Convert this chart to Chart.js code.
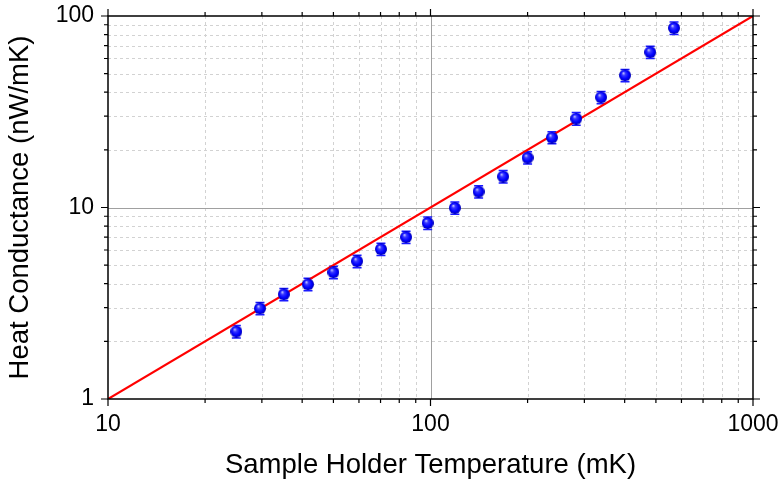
<!DOCTYPE html>
<html>
<head>
<meta charset="utf-8">
<script src="https://cdn.jsdelivr.net/npm/chart.js@4/dist/chart.umd.min.js"></script>
<style>
  body { margin: 0; background: #fff; }
  #wrap { width: 784px; height: 486px; }
</style>
</head>
<body>
<div id="wrap"><canvas id="condChart" width="784" height="486"></canvas></div>
<script>
const temps = [25, 29.6, 35.1, 41.7, 50, 59.2, 70.2, 84, 98, 119, 141, 168, 200, 238, 283, 338, 401, 480, 569];
const cond = [2.25, 2.97, 3.52, 3.97, 4.59, 5.24, 6.06, 7.0, 8.3, 9.95, 12.1, 14.5, 18.2, 23.2, 29.1, 37.6, 49, 64.7, 86.5];
const condErr = [0.17, 0.22, 0.26, 0.3, 0.34, 0.39, 0.45, 0.52, 0.62, 0.74, 0.9, 1.08, 1.35, 1.7, 2.2, 2.8, 3.6, 4.8, 6.4];

const fitX = [10, 1000];
const fitY = [1, 100];

const xTickVals = [10, 20, 30, 40, 50, 60, 70, 80, 90, 100, 200, 300, 400, 500, 600, 700, 800, 900, 1000];
const xTickLabels = [10, 100, 1000];
const yTickVals = [1, 2, 3, 4, 5, 6, 7, 8, 9, 10, 20, 30, 40, 50, 60, 70, 80, 90, 100];
const yTickLabels = [1, 10, 100];

const FONT = 'Arial, "Liberation Sans", sans-serif';

// shaded blue ball used as the marker
function makeBall(r) {
    const c = document.createElement('canvas');
    c.width = c.height = r * 2;
    const g = c.getContext('2d');
    const grad = g.createRadialGradient(r * 0.7, r * 0.6, 0, r, r, r);
    grad.addColorStop(0, '#e0e4ff');
    grad.addColorStop(0.3, '#3a3aff');
    grad.addColorStop(0.7, '#0000ff');
    grad.addColorStop(1, '#0000b4');
    g.fillStyle = grad;
    g.beginPath();
    g.arc(r, r, r, 0, Math.PI * 2);
    g.fill();
    return c;
}
const ball = makeBall(6);

const isDecade = v => Math.abs(Math.log10(v) - Math.round(Math.log10(v))) < 1e-9;

const gridAndErrors = {
    id: 'gridAndErrors',
    beforeDatasetsDraw(chart) {
        const { ctx, chartArea: a, scales: { x, y } } = chart;
        ctx.save();
        ctx.lineWidth = 1;
        xTickVals.forEach(v => {
            if (v === x.min || v === x.max) return;
            const px = Math.round(x.getPixelForValue(v)) + 0.5;
            ctx.setLineDash(isDecade(v) ? [] : [3, 3]);
            ctx.strokeStyle = isDecade(v) ? '#a0a0a0' : '#d2d2d2';
            ctx.beginPath(); ctx.moveTo(px, a.top); ctx.lineTo(px, a.bottom); ctx.stroke();
        });
        yTickVals.forEach(v => {
            if (v === y.min || v === y.max) return;
            const py = Math.round(y.getPixelForValue(v)) + 0.5;
            ctx.setLineDash(isDecade(v) ? [] : [3, 3]);
            ctx.strokeStyle = isDecade(v) ? '#a0a0a0' : '#d2d2d2';
            ctx.beginPath(); ctx.moveTo(a.left, py); ctx.lineTo(a.right, py); ctx.stroke();
        });
        ctx.setLineDash([]);

        // error bars
        ctx.strokeStyle = '#1a1aff';
        ctx.lineWidth = 1.5;
        temps.forEach((t, i) => {
            const px = x.getPixelForValue(t);
            const top = y.getPixelForValue(cond[i] + condErr[i]);
            const bot = y.getPixelForValue(cond[i] - condErr[i]);
            ctx.beginPath();
            ctx.moveTo(px, top); ctx.lineTo(px, bot);
            ctx.moveTo(px - 4.5, top); ctx.lineTo(px + 4.5, top);
            ctx.moveTo(px - 4.5, bot); ctx.lineTo(px + 4.5, bot);
            ctx.stroke();
        });
        ctx.restore();
    },
    afterDraw(chart) {
        const { ctx, chartArea: a, scales: { x, y } } = chart;
        ctx.save();
        ctx.strokeStyle = '#000';
        ctx.lineWidth = 1.5;
        ctx.strokeRect(a.left, a.top, a.right - a.left, a.bottom - a.top);
        ctx.lineWidth = 1.2;
        ctx.beginPath();
        xTickVals.forEach(v => {
            const px = x.getPixelForValue(v);
            const len = isDecade(v) ? 7 : 4;
            ctx.moveTo(px, a.bottom); ctx.lineTo(px, a.bottom + len);
            ctx.moveTo(px, a.top); ctx.lineTo(px, a.top - len);
        });
        yTickVals.forEach(v => {
            const py = y.getPixelForValue(v);
            const len = isDecade(v) ? 7 : 4;
            ctx.moveTo(a.left, py); ctx.lineTo(a.left - len, py);
            ctx.moveTo(a.right, py); ctx.lineTo(a.right + len, py);
        });
        ctx.stroke();
        ctx.restore();
    }
};

new Chart(document.getElementById('condChart'), {
    type: 'scatter',
    data: {
        datasets: [{
            label: 'Heat Conductance',
            data: temps.map((t, i) => ({ x: t, y: cond[i] })),
            pointStyle: ball,
            pointRadius: 6,
            showLine: false
        }, {
            type: 'line',
            label: 'Fit',
            data: fitX.map((t, i) => ({ x: t, y: fitY[i] })),
            borderColor: '#ff0000',
            borderWidth: 2.2,
            pointRadius: 0,
            fill: false
        }]
    },
    options: {
        responsive: false,
        animation: false,
        layout: { padding: { top: 16, right: 31, left: 0, bottom: 0 } },
        plugins: { legend: { display: false }, tooltip: { enabled: false } },
        scales: {
            x: {
                type: 'logarithmic',
                min: 10,
                max: 1000,
                afterBuildTicks: s => { s.ticks = xTickVals.map(v => ({ value: v })); },
                afterFit: s => { s.height = 87; s.paddingLeft = 0; s.paddingRight = 0; },
                grid: { display: false, drawTicks: false },
                border: { display: false },
                ticks: {
                    autoSkip: false,
                    maxRotation: 0,
                    padding: 12,
                    color: '#000',
                    font: { family: FONT, size: 23 },
                    callback: v => xTickLabels.includes(v) ? String(v) : ''
                },
                title: {
                    display: true,
                    text: 'Sample Holder Temperature (mK)',
                    color: '#000',
                    font: { family: FONT, size: 27.5 },
                    padding: { top: 4, bottom: 4 }
                }
            },
            y: {
                type: 'logarithmic',
                min: 1,
                max: 100,
                afterBuildTicks: s => { s.ticks = yTickVals.map(v => ({ value: v })); },
                afterFit: s => { s.width = 108; s.paddingTop = 0; s.paddingBottom = 0; },
                grid: { display: false, drawTicks: false },
                border: { display: false },
                ticks: {
                    autoSkip: false,
                    padding: 14,
                    color: '#000',
                    font: { family: FONT, size: 23 },
                    callback: v => yTickLabels.includes(v) ? String(v) : ''
                },
                title: {
                    display: true,
                    text: 'Heat Conductance (nW/mK)',
                    color: '#000',
                    font: { family: FONT, size: 27.5 },
                    padding: { top: 4, bottom: 4 }
                }
            }
        }
    },
    plugins: [gridAndErrors]
});
</script>
</body>
</html>
